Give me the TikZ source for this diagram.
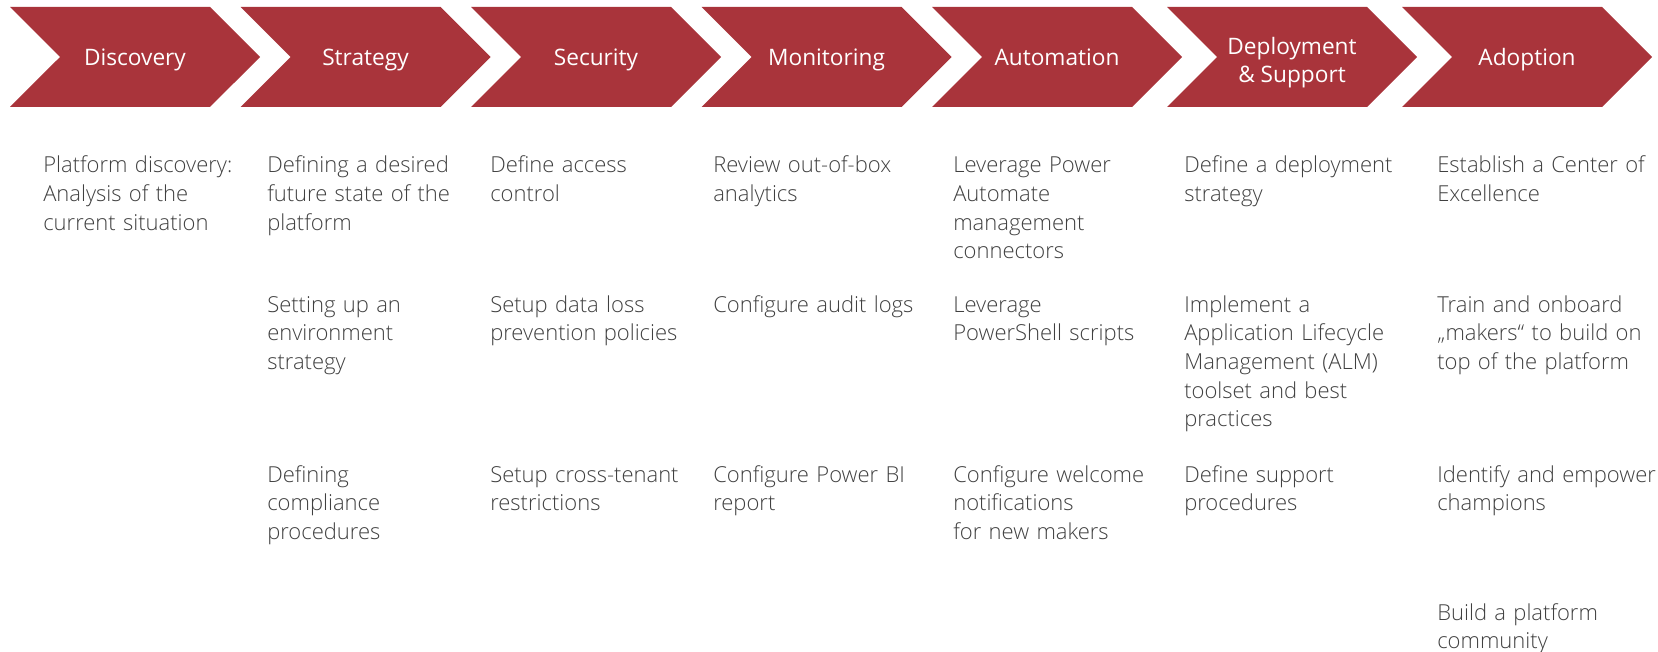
\documentclass[tikz,border=0pt]{standalone}
\usepackage{fontspec}
\setmainfont{Open Sans}
\IfFontExistsTF{Open Sans Light}{\newfontfamily\taskfont{Open Sans Light}}{\newfontfamily\taskfont{Open Sans}}
\usepackage{tikz}
\usetikzlibrary{shapes.symbols}
\definecolor{chevred}{RGB}{169,52,59}
\definecolor{tasktext}{RGB}{64,64,64}
\tikzset{
  phase/.style={signal, signal to=east, signal from=west, signal pointer angle=90,
    minimum width=187.5pt, minimum height=75pt, inner sep=0pt, fill=chevred, draw=none,
    text=white, align=center, font=\fontsize{17}{21}\selectfont},
  oneline/.style={text height=13.5pt, text depth=0pt},
  task/.style={anchor=base west, inner sep=0pt, text width=180pt, align=left,
    text=tasktext, font=\taskfont\fontsize{16.5}{21.5}\selectfont}
}

\begin{document}
\begin{tikzpicture}[x=0.75pt,y=0.75pt,yscale=-1,xscale=1]
        \useasboundingbox (0,0) rectangle (1658,652);

        %Shape: Chevrons
        \node [phase,oneline] (discovery) at (135,57) {Discovery};
        \node [phase,oneline] (strategy) at (365.5,57) {Strategy};
        \node [phase,oneline] (security) at (596,57) {Security};
        \node [phase,oneline] (monitoring) at (826.5,57) {Monitoring};
        \node [phase,oneline] (automation) at (1057,57) {Automation};
        \node [phase] (deployment) at (1292,57) {\rule{0pt}{21.4pt}Deployment\\\& Support};
        \node [phase,oneline] (adoption) at (1527,57) {Adoption};

        % Text Node
        \node [task] (disc1) at (43,173) {Platform discovery:\\Analysis of the\\current situation};

        % Text Node
        \node [task] (strat1) at (267,173) {Defining a desired\\future state of the\\platform};
        % Text Node
        \node [task] (strat2) at (267,312) {Setting up an\\environment\\strategy};
        % Text Node
        \node [task] (strat3) at (267,482) {Defining\\compliance\\procedures};

        % Text Node
        \node [task] (sec1) at (490,173) {Define access\\control};
        % Text Node
        \node [task] (sec2) at (490,312) {Setup data loss\\prevention policies};
        % Text Node
        \node [task] (sec3) at (490,482) {Setup cross-tenant\\restrictions};

        % Text Node
        \node [task] (mon1) at (713,173) {Review out-of-box\\analytics};
        % Text Node
        \node [task] (mon2) at (713,312) {Configure audit logs};
        % Text Node
        \node [task] (mon3) at (713,482) {Configure Power BI\\report};

        % Text Node
        \node [task] (auto1) at (953,173) {Leverage Power\\Automate\\management\\connectors};
        % Text Node
        \node [task] (auto2) at (953,312) {Leverage\\PowerShell scripts};
        % Text Node
        \node [task] (auto3) at (953,482) {Configure welcome\\notifications\\for new makers};

        % Text Node
        \node [task] (dep1) at (1184,173) {Define a deployment\\strategy};
        % Text Node
        \node [task] (dep2) at (1184,312) {Implement a\\Application Lifecycle\\Management (ALM)\\toolset and best\\practices};
        % Text Node
        \node [task] (dep3) at (1184,482) {Define support\\procedures};

        % Text Node
        \node [task] (adop1) at (1437,173) {Establish a Center of\\Excellence};
        % Text Node
        \node [task] (adop2) at (1437,312) {Train and onboard\\„makers“ to build on\\top of the platform};
        % Text Node
        \node [task] (adop3) at (1437,482) {Identify and empower\\champions};
        % Text Node
        \node [task] (adop4) at (1437,620) {Build a platform\\community};

\end{tikzpicture}
\end{document}
